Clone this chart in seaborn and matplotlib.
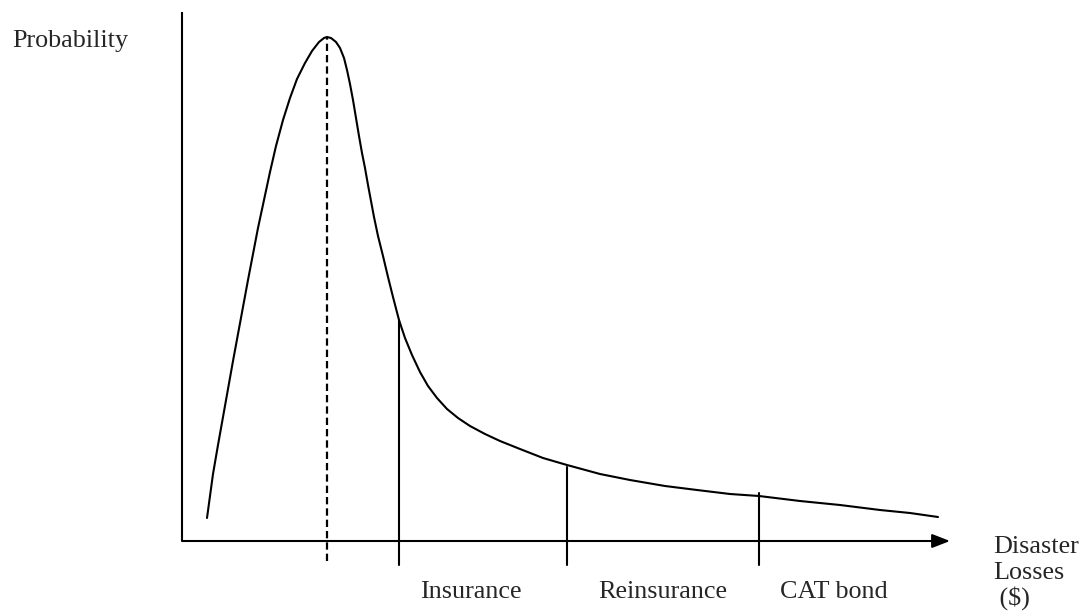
import numpy as np
import pandas as pd
import seaborn as sns
import matplotlib.pyplot as plt

# loss distribution curve (loss in arbitrary units, probability density)
loss = [0.25, 0.28, 0.31, 0.36, 0.41, 0.46, 0.51, 0.56, 0.61, 0.66, 0.71, 0.76,
        0.82, 0.88, 0.94, 1.01, 1.08, 1.15, 1.23, 1.30, 1.37, 1.42, 1.45,
        1.49, 1.54, 1.58, 1.62, 1.65, 1.68, 1.71, 1.74, 1.77, 1.80, 1.83, 1.86,
        1.89, 1.92, 1.96, 2.01, 2.06, 2.11, 2.17, 2.23, 2.30, 2.38, 2.46, 2.55,
        2.65, 2.76, 2.88, 3.03, 3.18, 3.38, 3.61, 3.85, 4.18, 4.48, 4.83, 5.15,
        5.48, 5.77, 6.18, 6.58, 6.98, 7.28, 7.56]
prob = [0.023, 0.045, 0.067, 0.096, 0.124, 0.152, 0.180, 0.207, 0.234, 0.261,
        0.287, 0.313, 0.341, 0.369, 0.395, 0.421, 0.443, 0.462, 0.478, 0.490,
        0.499, 0.503, 0.504,
        0.503, 0.499, 0.493, 0.483, 0.471, 0.457, 0.441, 0.423, 0.405, 0.388,
        0.373, 0.356, 0.340, 0.324, 0.305, 0.285, 0.264, 0.244, 0.221, 0.203,
        0.186, 0.169, 0.155, 0.143, 0.132, 0.123, 0.115, 0.107, 0.100, 0.092,
        0.083, 0.076, 0.067, 0.061, 0.055, 0.051, 0.047, 0.045, 0.040, 0.036,
        0.031, 0.028, 0.024]

mode_loss = 1.45
mode_prob = 0.504
tier_bounds = [2.17, 3.85, 5.77]
tier_tops = [0.221, 0.074, 0.048]
tier_labels = ["Insurance", "Reinsurance", "CAT bond"]
label_x = [2.38, 4.16, 5.98]

df = pd.DataFrame({"loss": loss, "prob": prob})

sns.set_theme(style="white")
plt.rcParams['font.family'] = ['Liberation Serif', 'DejaVu Serif']
FS = 18.8

fig = plt.figure(figsize=(10.92, 6.16), dpi=100)
ax = fig.add_axes([0, 0, 1, 1])
ax.set_xlim(-1.82, 9.10)
ax.set_ylim(-0.075, 0.541)
ax.axis("off")

sns.lineplot(data=df, x="loss", y="prob", ax=ax, color="black", lw=1.5, sort=False)

# axes drawn by hand
ax.plot([0, 0], [0, 0.529], color="black", lw=1.5, solid_capstyle="butt")
ax.annotate("", xy=(7.68, 0), xytext=(0, 0),
            arrowprops=dict(arrowstyle="-|>,head_length=0.9,head_width=0.35",
                            color="black", lw=1.5, shrinkA=0, shrinkB=0))

# mode
ax.plot([mode_loss, mode_loss], [-0.020, mode_prob], color="black", lw=1.6,
        dashes=(3.3, 1.8))

# layers
for b, t, lab, lx in zip(tier_bounds, tier_tops, tier_labels, label_x):
    ax.plot([b, b], [-0.024, t], color="black", lw=1.5)
    ax.text(lx, -0.057, lab, fontsize=FS, ha="left", va="baseline")

ax.text(-1.70, 0.494, "Probability", fontsize=FS, ha="left", va="baseline")
ax.text(8.11, -0.012, "Disaster", fontsize=FS, ha="left", va="baseline")
ax.text(8.11, -0.038, "Losses", fontsize=FS, ha="left", va="baseline")
ax.text(8.11, -0.064, " ($)", fontsize=FS, ha="left", va="baseline")

fig.savefig("out.png", dpi=100)
